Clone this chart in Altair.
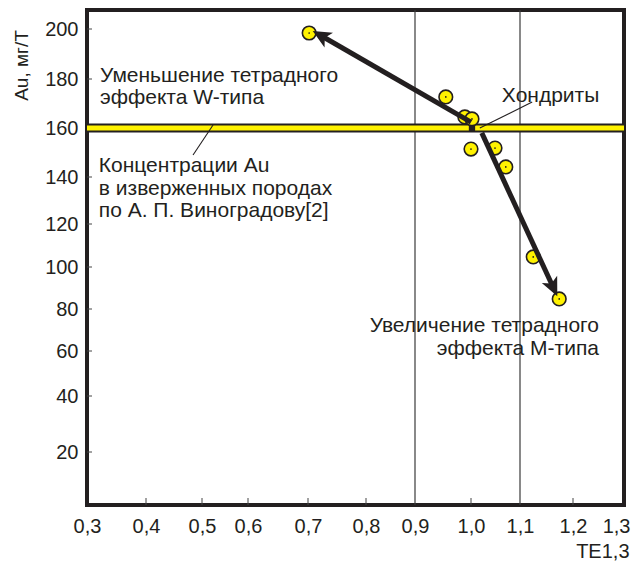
import altair as alt
import pandas as pd

# ---------------- data ----------------
x_ticks = [0.3, 0.4, 0.5, 0.6, 0.7, 0.8, 0.9, 1.0, 1.1, 1.2, 1.3]
y_ticks = [20, 40, 60, 80, 100, 120, 140, 160, 180, 200]

samples_te = [0.702, 0.955, 0.989, 1.002, 1.000, 1.049, 1.071, 1.125, 1.174]
samples_au = [198.4, 172.7, 164.5, 163.7, 151.4, 151.8, 144.1, 104.7, 84.8]

chondrite_te = [1.002]
chondrite_au = [160]

igneous_au = [160]

ref_lines_te = [0.9, 1.1]
minor_ticks_te = [0.4, 0.5, 0.6, 0.7, 0.8, 1.0, 1.2]

arrow_te_start = [1.000, 1.022]
arrow_au_start = [162.4, 158.0]
arrow_te_end = [0.722, 1.163]
arrow_au_end = [197.4, 90.1]
arrow_angle = [300, 155]

leader_te_start = [1.018, 0.524]
leader_au_start = [160.0, 161.2]
leader_te_end = [1.123, 0.484]
leader_au_end = [170.6, 149.0]

labels_left_text = [
    "Уменьшение тетрадного\nэффекта W-типа",
    "Концентрации Au\nв изверженных породах\nпо А. П. Виноградову[2]",
    "Хондриты",
]
labels_left_te = [0.322, 0.320, 1.063]
labels_left_au = [178.8, 142.0, 170.6]

labels_right_text = ["Увеличение тетрадного\nэффекта М-типа"]
labels_right_te = [1.251]
labels_right_au = [69.0]

# ---------------- styling ----------------
DARK = "#231f20"
YELLOW = "#fff200"
FONT = "Liberation Sans"
W, H = 537, 495

# hand-drawn (uneven) axes of the original -> piecewise linear scales
x_scale = alt.Scale(domain=x_ticks,
                    range=[0, 59, 115, 161, 221, 279, 328, 384, 433, 486, 537],
                    zero=False, nice=False)
y_scale = alt.Scale(domain=[1] + y_ticks + [207.6],
                    range=[495, 442, 386, 341, 299, 257, 214, 167, 118, 69, 19, 0],
                    zero=False, nice=False)

x_axis = alt.Axis(values=x_ticks, labelExpr="replace(format(datum.value, '.1f'), '.', ',')",
                  domain=False, ticks=False, tickSize=0, grid=False,
                  labelFont=FONT, labelFontSize=20, labelColor=DARK,
                  labelBaseline="alphabetic", labelPadding=27, labelFlush=False,
                  labelAlign={"condition": {"test": "datum.value > 1.25", "value": "right"},
                              "value": "center"},
                  labelOffset={"condition": {"test": "datum.value > 1.25", "value": 6}, "value": 0},
                  title="TE1,3", titleFont=FONT, titleFontSize=20, titleFontWeight="normal",
                  titleColor=DARK, titleX=542, titleY=52, titleAlign="right",
                  titleBaseline="alphabetic", titleAngle=0)
y_axis = alt.Axis(values=y_ticks, domain=False, ticks=False, tickSize=0, grid=False,
                  labelFont=FONT, labelFontSize=20, labelColor=DARK, labelPadding=9,
                  labelFlush=False,
                  title="Au, мг/Т", titleFont=FONT, titleFontSize=19, titleFontWeight="normal",
                  titleColor=DARK, titleAngle=270, titleX=-60, titleY=55,
                  titleAlign="center", titleBaseline="alphabetic")


def X(field):
    return alt.X(f"{field}:Q", scale=x_scale, axis=x_axis)


def Y(field):
    return alt.Y(f"{field}:Q", scale=y_scale, axis=y_axis)


pts = pd.DataFrame({"te": samples_te, "au": samples_au})
chon = pd.DataFrame({"te": chondrite_te, "au": chondrite_au})
band = pd.DataFrame({"au": igneous_au})
vlines = pd.DataFrame({"te": ref_lines_te})
xt = pd.DataFrame({"te": minor_ticks_te})
yt = pd.DataFrame({"au": y_ticks})
arrows = pd.DataFrame({"te": arrow_te_start, "au": arrow_au_start,
                       "te2": arrow_te_end, "au2": arrow_au_end, "angle": arrow_angle})
leaders = pd.DataFrame({"te": leader_te_start, "au": leader_au_start,
                        "te2": leader_te_end, "au2": leader_au_end})
lab_l = pd.DataFrame({"te": labels_left_te, "au": labels_left_au, "txt": labels_left_text})
lab_r = pd.DataFrame({"te": labels_right_te, "au": labels_right_au, "txt": labels_right_text})

vrules = alt.Chart(vlines).mark_rule(color="#3a3a3a", strokeWidth=1.2).encode(x=X("te"))

xticks = alt.Chart(xt).mark_rule(color="#444", strokeWidth=1).encode(
    x=X("te"), y=alt.value(H), y2=alt.value(H - 7))
yticks = alt.Chart(yt).mark_rule(color="#444", strokeWidth=1).encode(
    y=Y("au"), x=alt.value(0), x2=alt.value(5))

band_dark = alt.Chart(band).mark_rule(color=DARK, strokeWidth=9).encode(y=Y("au"))
band_yel = alt.Chart(band).mark_rule(color=YELLOW, strokeWidth=5).encode(y=Y("au"))

leader_lines = alt.Chart(leaders).mark_rule(color=DARK, strokeWidth=1.1).encode(
    x=X("te"), y=Y("au"), x2="te2", y2="au2")

circles = alt.Chart(pts).mark_point(shape="circle", filled=True, fill=YELLOW, stroke=DARK,
                                    strokeWidth=1.6, size=185, opacity=1).encode(
    x=X("te"), y=Y("au"))
dots = alt.Chart(pts).mark_point(shape="circle", filled=True, color=DARK, size=3, opacity=1).encode(
    x=X("te"), y=Y("au"))

chon_mark = alt.Chart(chon).mark_point(shape="square", filled=True, color=DARK, size=40,
                                       opacity=1).encode(x=X("te"), y=Y("au"))

arrow_lines = alt.Chart(arrows).mark_rule(color=DARK, strokeWidth=5).encode(
    x=X("te"), y=Y("au"), x2="te2", y2="au2")
arrow_heads = alt.Chart(arrows).mark_point(
    shape="M0,-0.6 L0.55,0.6 L0,0.3 L-0.55,0.6 Z", filled=True, color=DARK, size=950,
    opacity=1).encode(
    x=X("te2"), y=Y("au2"), angle=alt.Angle("angle:Q", scale=None))

text_l = alt.Chart(lab_l).mark_text(align="left", baseline="alphabetic", font=FONT, fontSize=21,
                                    color=DARK, lineBreak="\n", lineHeight=22.5).encode(
    x=X("te"), y=Y("au"), text="txt:N")
text_r = alt.Chart(lab_r).mark_text(align="right", baseline="alphabetic", font=FONT, fontSize=21,
                                    color=DARK, lineBreak="\n", lineHeight=23).encode(
    x=X("te"), y=Y("au"), text="txt:N")

chart = alt.layer(
    vrules, xticks, yticks, band_dark, band_yel, leader_lines,
    circles, dots, chon_mark, arrow_lines, arrow_heads, text_l, text_r
).properties(
    width=W, height=H,
    autosize=alt.AutoSizeParams(type="none"),
    padding={"left": 79, "top": 2, "right": 7, "bottom": 56},
    background="white",
).configure_view(
    stroke=DARK, strokeWidth=4
)

chart.save("out.html", embed_options={"renderer": "svg", "actions": False})
